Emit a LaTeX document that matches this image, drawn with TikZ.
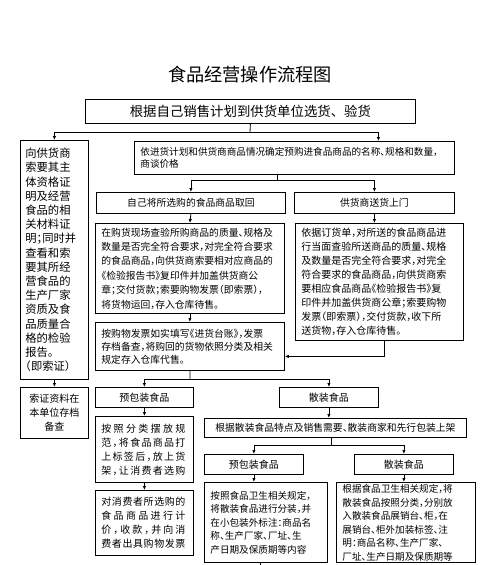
\documentclass[tikz,border=0pt]{standalone}
\usepackage{fontspec}
\newfontfamily\cjk{Noto Sans CJK SC}
\newfontfamily\cjkh[RawFeature=+halt]{Noto Sans CJK SC}
\usetikzlibrary{arrows.meta}
\newcommand\fs[2]{\cjkh\fontsize{#1}{#2}\selectfont}
% spread one line of characters over the box width
\makeatletter
\newcommand\sline[1]{\makebox[84pt][s]{\sl@first#1\@nil}}
\def\sl@first#1{#1\sl@loop}
\def\sl@loop#1{\ifx#1\@nil\else\hfil#1\expandafter\sl@loop\fi}
\makeatother
\begin{document}
\begin{tikzpicture}[x=1pt,y=-1pt,line width=0.8pt,>={Latex[length=4pt,width=3.4pt]},
  box/.style={draw,anchor=north west,inner xsep=6pt,inner ysep=2pt},
  mid/.style={box,align=center,font=\fs{9.8}{14}}]
\useasboundingbox (0,0) rectangle (500,565);
\clip (0,0) rectangle (500,565);
\fill[white] (0,0) rectangle (500,565);
% title and first step
\node[font={\cjk\fontsize{18.2}{20}\selectfont}] (title) at (250,75) {食品经营操作流程图};
\node[box,minimum width=330pt,minimum height=24pt,font={\cjk\fontsize{13.4}{16}\selectfont}] (T) at (85,99) {根据自己销售计划到供货单位选货、验货};
% left column
\node[box,minimum width=68pt,minimum height=239pt,inner xsep=5pt,text width=58pt,align=left,font=\fs{11.3}{14.2}] (A) at (20,140)
  {向供货商\\索要其主\\体资格证\\明及经营\\食品的相\\关材料证\\明；同时并\\查看和索\\要其所经\\营食品的\\生产厂家\\资质及食\\品质量合\\格的检验\\报告。\\（即索证）};
\node[mid,minimum width=68pt,minimum height=51pt,font=\fs{10}{14}] (B) at (20,387) {索证资料在\\本单位存档\\备查};
% purchase
\node[box,minimum width=320pt,minimum height=33pt,text width=308pt,align=left,font=\fs{9.6}{12}] (C) at (134,141)
  {依进货计划和供货商商品情况确定预购进食品商品的名称、规格和数量，\\商谈价格};
\node[mid,minimum width=189pt,minimum height=21pt] (D) at (96,192) {自己将所选购的食品商品取回};
\node[mid,minimum width=160pt,minimum height=21pt] (E) at (294,192) {供货商送货上门};
\node[box,minimum width=189pt,minimum height=90pt,text width=177pt,align=left,font=\fs{9.8}{14.4}] (F) at (95,223)
  {在购货现场查验所购商品的质量、规格及\\数量是否完全符合要求，对完全符合要求\\的食品商品，向供货商索要相对应商品的\\《检验报告书》复印件并加盖供货商公\\章；交付货款；索要购物发票（即索票），\\将货物运回，存入仓库待售。};
\node[box,minimum width=189pt,minimum height=48pt,text width=177pt,align=left,font=\fs{9.8}{13}] (G) at (95,322)
  {按购物发票如实填写《进货台账》，发票\\存档备查，将购回的货物依照分类及相关\\规定存入仓库代售。};
\node[box,minimum width=168pt,minimum height=117pt,text width=156pt,align=left,font=\fs{10}{14.1}] (H) at (295,223)
  {依据订货单，对所送的食品商品进\\行当面查验所送商品的质量、规格\\及数量是否完全符合要求，对完全\\符合要求的食品商品，向供货商索\\要相应食品商品《检验报告书》复\\印件并加盖供货商公章；索要购物\\发票（即索票），交付货款，收下所\\送货物，存入仓库待售。};
% prepacked / bulk
\node[mid,minimum width=98pt,minimum height=20pt,font=\fs{10}{14}] (I) at (95,387) {预包装食品};
\node[mid,minimum width=99pt,minimum height=20pt,font=\fs{10}{14}] (J) at (279,387) {散装食品};
\node[box,minimum width=98pt,minimum height=66pt,text width=86pt,align=left,font=\fs{10}{14}] (K) at (95,416)
  {\sline{按照分类摆放规}\\\sline{范，将食品商品打}\\\sline{上标签后，放上货}\\\sline{架，让消费者选购}};
\node[box,minimum width=98pt,minimum height=65pt,text width=86pt,align=left,font=\fs{10}{14}] (L) at (95,490)
  {\sline{对消费者所选购的}\\\sline{食品商品进行计}\\\sline{价，收款，并向消}\\\sline{费者出具购物发票}};
\node[mid,minimum width=262pt,minimum height=19pt] (M) at (204,418) {根据散装食品特点及销售需要、散装商家和先行包装上架};
\node[mid,minimum width=99pt,minimum height=20pt,font=\fs{10}{14}] (N) at (204,454) {预包装食品};
\node[mid,minimum width=99pt,minimum height=20pt,font=\fs{10}{14}] (O) at (354,454) {散装食品};
\node[box,minimum width=123pt,minimum height=80pt,text width=111pt,align=left,font=\fs{9.6}{13.5}] (P) at (204,482)
  {按照食品卫生相关规定，\\将散装食品进行分装，并\\在小包装外标注：商品名\\称、生产厂家、厂址、生\\产日期及保质期等内容};
\node[box,minimum width=139pt,text width=127pt,align=left,font=\fs{9.6}{13.5}] (Q) at (336,482)
  {根据食品卫生相关规定，将\\散装食品按照分类，分别放\\入散装食品展销台、柜，在\\展销台、柜外加装标签、注\\明：商品名称、生产厂家、\\厂址、生产日期及保质期等};
% connectors
\coordinate (s1) at (250,132);
\draw (T.south) -- (s1);
\draw[->] (s1) -| (A.north);
\draw[->] (s1) -| ([xshift=84pt]C.north);
\draw[->] (A.south) -- (B.north);
\coordinate (s2) at (277,180);
\draw (s2 |- C.south) -- (s2);
\draw[->] (s2) -| (D.north);
\draw[->] (s2) -| (E.north);
\draw[->] (D.south) -- (F.north);
\draw[->] (F.south) -- (G.north);
\draw[->] (E.south) -- (E.south |- H.north);
\draw[->] ([xshift=5pt]H.south) |- ([yshift=-10pt]G.east);
\coordinate (s3) at (190,379);
\draw (G.south) -- (s3);
\draw[->] (s3) -| (I.north);
\draw[->] (s3) -| (J.north);
\draw[->] (I.south) -- (K.north);
\draw[->] (K.south) -- (L.north);
\draw[->] (J.south) -- (J.south |- M.north);
\coordinate (s4) at (331,445);
\draw (s4 |- M.south) -- (s4);
\draw[->] (s4) -| (N.north);
\draw[->] (s4) -| (O.north);
\draw[->] (N.south) -- (N.south |- P.north);
\draw[->] (O.south) -- (O.south |- Q.north);
\coordinate (pend) at (260,570);
\draw (P.south -| pend) -- (pend);
\end{tikzpicture}
\end{document}
